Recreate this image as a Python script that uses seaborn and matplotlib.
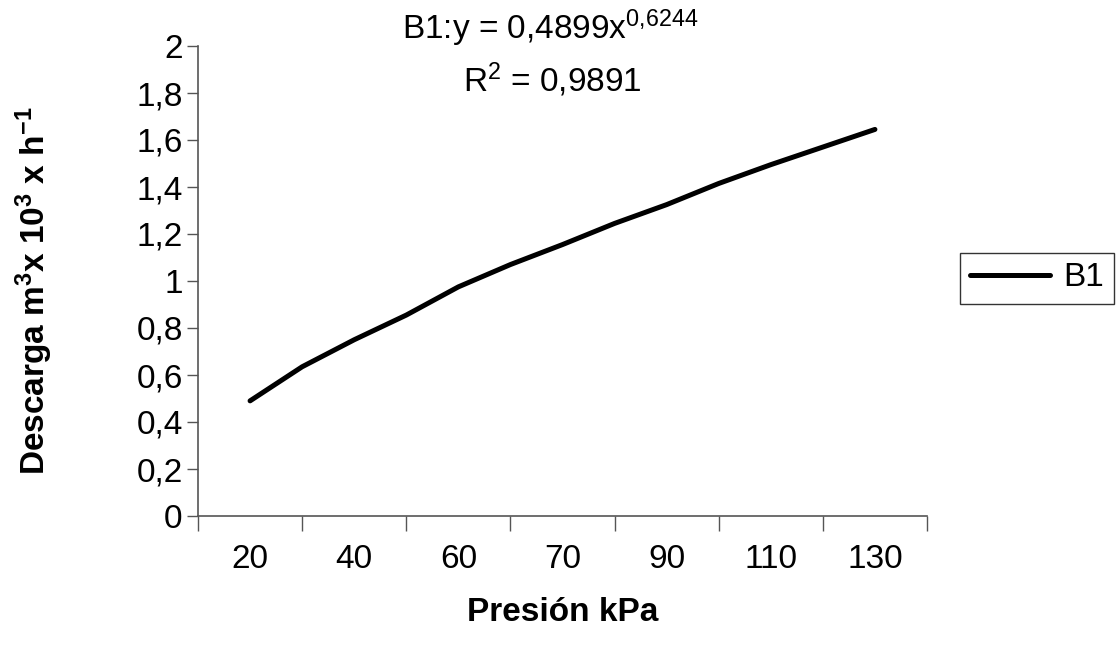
import matplotlib
matplotlib.use("Agg")
import matplotlib.pyplot as plt
import numpy as np
import pandas as pd
import seaborn as sns

# values (Descarga vs Presión, B1)
presion = ["20", "40", "60", "70", "90", "110", "130"]
# the B1 curve, read every half category (0 = first category "20")
posicion_b1 = [0, 0.5, 1, 1.5, 2, 2.5, 3, 3.5, 4, 4.5, 5, 5.5, 6]
descarga_b1 = [0.49, 0.635, 0.75, 0.855, 0.975, 1.07, 1.155, 1.245, 1.325,
               1.415, 1.495, 1.57, 1.645]
y_ticks = [0, 0.2, 0.4, 0.6, 0.8, 1, 1.2, 1.4, 1.6, 1.8, 2]
y_tick_labels = ["0", "0,2", "0,4", "0,6", "0,8", "1", "1,2", "1,4", "1,6", "1,8", "2"]

df = pd.DataFrame({"pos": posicion_b1, "Descarga": descarga_b1, "serie": "B1"})

sns.set_style("white")
plt.rcParams["font.family"] = ["Liberation Sans", "DejaVu Sans"]
plt.rcParams["mathtext.fontset"] = "custom"
plt.rcParams["mathtext.rm"] = "Liberation Sans"
plt.rcParams["mathtext.bf"] = "Liberation Sans:bold"
plt.rcParams["mathtext.it"] = "Liberation Sans"
for key in ["text.color", "axes.labelcolor", "xtick.color", "ytick.color"]:
    plt.rcParams[key] = "black"

fig = plt.figure(figsize=(11.18, 6.48), dpi=100)
ax = fig.add_axes([198 / 1118, 1 - 516 / 648, 729 / 1118, 470 / 648])

sns.lineplot(data=df, x="pos", y="Descarga", hue="serie", palette=["black"],
             linewidth=3.6, ax=ax, sort=False)

n = len(presion)
ax.set_xlim(-0.5, n - 0.5)
ax.set_ylim(0, 2)
ax.set_xticks(np.arange(n + 1) - 0.5)
ax.set_xticklabels([])
ax.set_xticks(np.arange(n), minor=True)
ax.set_xticklabels(presion, minor=True)
ax.tick_params(axis="x", which="major", direction="out", length=11, width=1,
               color="#555555", bottom=True)
ax.tick_params(axis="x", which="minor", length=0, pad=20, labelsize=24)
ax.set_yticks(y_ticks)
ax.set_yticklabels(y_tick_labels)
ax.tick_params(axis="y", direction="out", length=8, width=1, color="#555555",
               left=True, pad=3, labelsize=24)

for side in ["top", "right"]:
    ax.spines[side].set_visible(False)
for side in ["left", "bottom"]:
    ax.spines[side].set_color("#555555")
    ax.spines[side].set_linewidth(1.2)

ax.set_xlabel("Presión kPa", fontsize=24, fontweight="bold", labelpad=16)
ax.set_ylabel(r"Descarga m$^{\mathbf{3}}$x 10$^{\mathbf{3}}$ x h$^{\mathbf{-1}}$",
              fontsize=24, fontweight="bold")
ax.yaxis.set_label_coords((55 - 198) / 729, 0.48)

fig.text(550 / 1118, 1 - 28 / 648, r"B1:y = 0,4899x$^{0{,}6244}$", fontsize=24,
         ha="center", va="center")
fig.text(552 / 1118, 1 - 80 / 648, r"R$^{2}$ = 0,9891", fontsize=24,
         ha="center", va="center")

leg = ax.legend(loc="center left", bbox_to_anchor=((960 - 198) / 729, (516 - 278) / 470),
                frameon=True, fancybox=False, edgecolor="black", fontsize=24,
                handlelength=2.4, borderpad=0.3, handletextpad=0.4,
                borderaxespad=0)
leg.get_frame().set_linewidth(1)
for line in leg.get_lines():
    line.set_linewidth(3.6)

fig.savefig("out.png", dpi=100)
